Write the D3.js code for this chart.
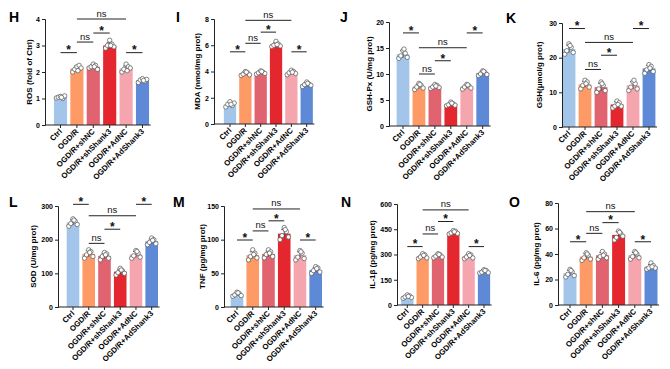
<!DOCTYPE html>
<html><head><meta charset="utf-8">
<script src="https://cdn.jsdelivr.net/npm/d3@7/dist/d3.min.js"></script>
<style>
html,body{margin:0;padding:0;background:#fff;}
svg{display:block;font-family:"Liberation Sans",Arial,sans-serif;}
</style></head>
<body>
<svg id="chart" width="670" height="369"></svg>
<script>
// ---------- data ----------
const groups = ["Ctrl","OGD/R","OGD/R+shNC","OGD/R+shShank3","OGD/R+AdNC","OGD/R+AdShank3"];
const barColors = ["#a2c5e9","#fd9a66","#e1636f","#e4262e","#f5a5ad","#5d89d7"];

const rosMean = [1.05,2.13,2.2,3.0,2.13,1.68];
const rosSD   = [0.04,0.09,0.08,0.12,0.1,0.05];
const rosDots = [[1.02,1.05,1.08,1.0,1.1,1.04],[2.0,2.1,2.2,2.25,2.15,2.05],[2.15,2.2,2.3,2.25,2.1,2.2],[2.9,3.0,3.2,3.05,2.95,3.0],[2.0,2.1,2.3,2.2,2.15,2.05],[1.6,1.7,1.75,1.65,1.72,1.68]];
const rosTicks = [0,1,2,3,4];
const rosSig = [[0,1,"*",2.73],[1,2,"ns",3.13],[2,3,"*",3.47],[1,4,"ns",4.0],[4,5,"*",2.73]];

const mdaMean = [1.5,3.85,3.93,6.05,3.92,3.02];
const mdaSD   = [0.14,0.11,0.09,0.14,0.12,0.12];
const mdaDots = [[1.3,1.5,1.7,1.4,1.6,1.5],[3.7,3.8,4.0,3.9,3.75,3.95],[3.8,3.9,4.05,3.95,3.85,4.0],[5.9,6.0,6.3,6.1,5.95,6.05],[3.75,3.9,4.1,4.0,3.85,3.95],[2.85,3.0,3.2,3.05,2.95,3.1]];
const mdaTicks = [0,2,4,6,8];
const mdaSig = [[0,1,"*",5.5],[1,2,"ns",6.15],[2,3,"*",7.0],[1,4,"ns",7.9],[4,5,"*",5.5]];

const gpxMean = [13.8,7.6,7.6,4.2,7.6,10.2];
const gpxSD   = [0.7,0.45,0.3,0.25,0.35,0.35];
const gpxDots = [[13.0,13.5,14.5,14.0,13.2,14.8],[7.0,7.5,8.2,7.8,7.3,8.0],[7.2,7.5,8.0,7.8,7.4,7.7],[3.9,4.1,4.6,4.3,4.0,4.4],[7.1,7.5,8.0,7.7,7.3,7.9],[9.7,10.0,10.6,10.3,9.9,10.5]];
const gpxTicks = [0,5,10,15,20];
const gpxSig = [[0,1,"*",17.9],[1,2,"ns",10.0],[2,3,"*",12.55],[1,4,"ns",15.05],[4,5,"*",17.9]];

const gshMean = [22.5,12.3,11.5,6.5,12.0,16.9];
const gshSD   = [1.1,0.9,1.1,0.8,1.1,0.9];
const gshDots = [[21.0,22.0,24.0,23.0,21.5,23.5],[11.0,12.0,13.5,13.0,11.5,12.5],[10.0,11.0,13.0,12.0,10.5,12.5],[5.5,6.0,7.5,7.0,6.0,6.5],[10.5,11.5,13.0,12.5,11.0,13.5],[15.5,16.5,18.0,17.5,16.0,17.0]];
const gshTicks = [0,10,20,30];
const gshSig = [[0,1,"*",28.4],[1,2,"ns",16.6],[2,3,"*",20.7],[1,4,"ns",24.4],[4,5,"*",28.4]];

const sodMean = [251,158,152,105,156,195];
const sodSD   = [8,9,8,7,9,7];
const sodDots = [[240,248,262,255,245,258],[145,155,170,165,150,162],[140,150,162,158,145,155],[95,102,115,108,100,110],[145,152,168,160,148,165],[185,192,205,200,188,198]];
const sodTicks = [0,100,200,300];
const sodSig = [[0,1,"*",305],[1,2,"ns",189],[2,3,"*",231],[1,4,"ns",271],[4,5,"*",305]];

const tnfMean = [19,77,79,109,77,55];
const tnfSD   = [2,5,4,6,5,3.5];
const tnfDots = [[16,18,22,20,17,21],[70,75,85,80,73,78],[73,78,85,82,75,80],[100,106,118,112,104,115],[70,74,84,80,72,82],[50,54,60,58,52,57]];
const tnfTicks = [0,50,100,150];
const tnfSig = [[0,1,"*",99.5],[1,2,"ns",113],[2,3,"*",128],[1,4,"ns",145.6],[4,5,"*",99.5]];

const il1Mean = [50,290,293,432,290,200];
const il1SD   = [7,11,9,7,11,8];
const il1Dots = [[40,48,60,55,45,52],[275,285,305,298,280,295],[280,290,305,298,285,300],[422,428,442,438,425,435],[275,285,305,298,280,295],[190,195,210,205,192,205]];
const il1Ticks = [0,150,300,450,600];
const il1Sig = [[0,1,"*",347],[1,2,"ns",422],[2,3,"*",496],[1,4,"ns",565],[4,5,"*",347]];

const il6Mean = [25,38,39,55,39,30];
const il6SD   = [2.2,2.2,2.1,2.5,2.2,1.8];
const il6Dots = [[22,24,28,26,23,27],[35,37,41,39,36,40],[36,38,42,40,37,39],[51,53,58,56,54,57],[36,38,42,40,37,41],[28,29,33,31,29,30]];
const il6Ticks = [0,20,40,60,80];
const il6Sig = [[0,1,"*",49.6],[1,2,"ns",56.2],[2,3,"*",64.6],[1,4,"ns",73.2],[4,5,"*",49.6]];

// ---------- layout ----------
const panels = [
  {letter:"H", lx:9,   ly:22,  title:"ROS (fold of Ctrl)", ax:45,  top:19,  bottom:125, first:60.5, last:142.5, tOff:13, mean:rosMean, sd:rosSD, dots:rosDots, ticks:rosTicks, sig:rosSig},
  {letter:"I", lx:176, ly:22,  title:"MDA (nmol/mg prot)", ax:214, top:19,  bottom:124, first:230,  last:306.7, tOff:14, mean:mdaMean, sd:mdaSD, dots:mdaDots, ticks:mdaTicks, sig:mdaSig},
  {letter:"J", lx:340, ly:22,  title:"GSH-Px (U/mg prot)", ax:389, top:22,  bottom:126, first:403,  last:482.7, tOff:17, mean:gpxMean, sd:gpxSD, dots:gpxDots, ticks:gpxTicks, sig:gpxSig},
  {letter:"K", lx:506, ly:23,  title:"GSH(μmol/g prot)",   ax:562, top:23,  bottom:127, first:569,  last:649,   tOff:20, mean:gshMean, sd:gshSD, dots:gshDots, ticks:gshTicks, sig:gshSig},
  {letter:"L", lx:9,   ly:207, title:"SOD (U/mg prot)",    ax:58,  top:206, bottom:307, first:73,   last:151.7, tOff:22, mean:sodMean, sd:sodSD, dots:sodDots, ticks:sodTicks, sig:sodSig},
  {letter:"M", lx:173, ly:207, title:"TNF (pg/mg prot)",   ax:224, top:206, bottom:307, first:237,  last:315.7, tOff:19, mean:tnfMean, sd:tnfSD, dots:tnfDots, ticks:tnfTicks, sig:tnfSig},
  {letter:"N", lx:341, ly:207, title:"IL-1β (pg/mg prot)", ax:397, top:204, bottom:305, first:407.3,last:484,   tOff:22, mean:il1Mean, sd:il1SD, dots:il1Dots, ticks:il1Ticks, sig:il1Sig},
  {letter:"O", lx:509, ly:207, title:"IL-6 (pg/mg prot)",  ax:558, top:203, bottom:305, first:570,  last:651,   tOff:19, mean:il6Mean, sd:il6SD, dots:il6Dots, ticks:il6Ticks, sig:il6Sig}
];

const jitter = [-4.2,-2.2,0,2.2,4.2,1];
const ink = "#222";
const svg = d3.select("#chart");

panels.forEach(p => {
  const g = svg.append("g");
  const step = (p.last - p.first) / (groups.length - 1);
  const x = d3.scaleBand().domain(groups)
    .range([p.first - step/2, p.last + step/2]).paddingInner(0.2).paddingOuter(0.1);
  const yMax = p.ticks[p.ticks.length-1];
  const y = d3.scaleLinear().domain([0, yMax]).range([p.bottom, p.top]);
  const cx = i => x(groups[i]) + x.bandwidth()/2;

  // panel letter
  g.append("text").attr("x", p.lx).attr("y", p.ly).text(p.letter)
    .attr("font-size", 14).attr("font-weight", "bold").attr("fill", "#000");

  // bars
  g.selectAll("rect.bar").data(p.mean).join("rect")
    .attr("x", (d,i) => x(groups[i])).attr("width", x.bandwidth())
    .attr("y", d => y(d)).attr("height", d => y(0) - y(d))
    .attr("fill", (d,i) => barColors[i]);

  // error bars
  p.mean.forEach((m,i) => {
    const c = cx(i), s = p.sd[i];
    g.append("line").attr("x1", c).attr("x2", c).attr("y1", y(m - s)).attr("y2", y(m + s))
      .attr("stroke", "#333").attr("stroke-width", 0.8);
    g.append("line").attr("x1", c-3).attr("x2", c+3).attr("y1", y(m + s)).attr("y2", y(m + s))
      .attr("stroke", "#333").attr("stroke-width", 0.8);
  });

  // dots
  p.dots.forEach((arr,i) => {
    g.selectAll(null).data(arr).join("circle")
      .attr("cx", (d,k) => cx(i) + jitter[k]).attr("cy", d => y(d)).attr("r", 2.2)
      .attr("fill", "#fff").attr("stroke", "#555").attr("stroke-width", 0.7);
  });

  // y axis
  const ya = g.append("g").attr("transform", `translate(${p.ax},0)`)
    .call(d3.axisLeft(y).tickValues(p.ticks).tickSize(3).tickPadding(2).tickFormat(d3.format("d")));
  ya.select(".domain").attr("stroke", ink).attr("stroke-width", 1);
  ya.selectAll(".tick line").attr("stroke", ink).attr("stroke-width", 1);
  ya.selectAll(".tick text").attr("font-size", 7).attr("font-weight", "bold")
    .attr("font-family", "Liberation Sans, Arial, sans-serif").attr("fill", "#000");

  // x axis
  const xa = g.append("g").attr("transform", `translate(0,${p.bottom})`)
    .call(d3.axisBottom(x).tickSize(3).tickFormat(""));
  xa.select(".domain").attr("d", `M${p.ax},0H${p.last + step/2}`).attr("stroke", ink).attr("stroke-width", 1);
  xa.selectAll(".tick line").attr("stroke", ink).attr("stroke-width", 1);
  groups.forEach((name,i) => {
    const tx = cx(i) + 2, ty = p.bottom + 7;
    g.append("text").attr("transform", `translate(${tx},${ty}) rotate(-45)`)
      .attr("text-anchor", "end").attr("font-size", 7.8).attr("font-weight", "bold")
      .attr("fill", "#000").text(name);
  });

  // y title
  g.append("text")
    .attr("transform", `translate(${p.ax - p.tOff},${(p.top + p.bottom)/2}) rotate(-90)`)
    .attr("text-anchor", "middle").attr("font-size", 8).attr("font-weight", "bold")
    .attr("fill", "#000").text(p.title);

  // significance brackets
  p.sig.forEach(([a,b,lab,v]) => {
    const yy = y(v);
    g.append("line").attr("x1", cx(a)).attr("x2", cx(b)).attr("y1", yy).attr("y2", yy)
      .attr("stroke", ink).attr("stroke-width", 1);
    const t = g.append("text").attr("x", (cx(a)+cx(b))/2).attr("text-anchor", "middle")
      .attr("fill", "#111").text(lab);
    if (lab === "*") t.attr("y", yy + 1.8).attr("font-size", 12).attr("font-weight", "bold");
    else t.attr("y", yy - 2.5).attr("font-size", 9.5);
  });
});
</script>
</body></html>
